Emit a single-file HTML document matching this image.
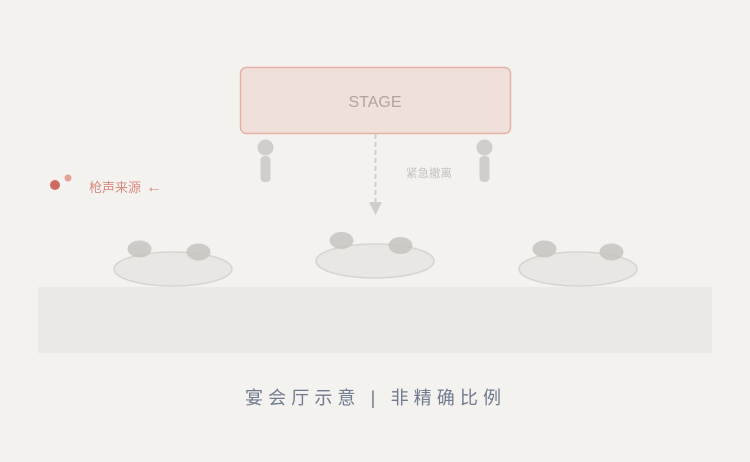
<!DOCTYPE html>
<html><head><meta charset="utf-8"><style>
html,body{margin:0;padding:0;background:#f4f2ef;}
svg{display:block;}
text{font-family:"Liberation Sans","Noto Sans CJK SC",sans-serif;}
</style></head><body>
<svg width="750" height="462" viewBox="0 0 750 462" xmlns="http://www.w3.org/2000/svg">
<rect width="750" height="462" fill="#f4f2ef"/>
<rect x="38" y="287" width="674" height="66" fill="#ebe9e5"/>
<rect x="240.5" y="67.5" width="270" height="66" rx="6" fill="#f0e0da" stroke="#e6b0a5" stroke-width="1.5"/>
<text x="375" y="107" font-size="16" fill="#b3a39d" text-anchor="middle">STAGE</text>
<circle cx="265.5" cy="147.5" r="8" fill="#d0cecb"/>
<rect x="260.5" y="156" width="10" height="26" rx="4" fill="#d0cecb"/>
<circle cx="484.5" cy="147.5" r="8" fill="#d0cecb"/>
<rect x="479.5" y="156" width="10" height="26" rx="4" fill="#d0cecb"/>
<line x1="375.5" y1="134" x2="375.5" y2="203" stroke="#cfcdca" stroke-width="2" stroke-dasharray="5,3"/>
<polygon points="369,202 382,202 375.5,215" fill="#d0cecb"/>
<text x="406" y="177" font-size="11.5" fill="#c4c2bf">紧急撤离</text>
<circle cx="55" cy="185" r="5" fill="#cc6b5e"/>
<circle cx="68" cy="178" r="3.5" fill="#e8a095"/>
<text x="89" y="192" font-size="13" fill="#d98a7e">枪声来源</text>
<text x="146" y="192" font-size="16" fill="#d98a7e">←</text>
<g fill="#e9e7e3" stroke="#d6d4d0" stroke-width="1.5">
<ellipse cx="173" cy="269" rx="59" ry="17"/>
<ellipse cx="375" cy="261" rx="59" ry="17"/>
<ellipse cx="578" cy="269" rx="59" ry="17"/>
</g>
<g fill="#c6c4c0" fill-opacity="0.85">
<ellipse cx="139.5" cy="249" rx="12" ry="8.5"/>
<ellipse cx="198.5" cy="252" rx="12" ry="8.5"/>
<ellipse cx="341.5" cy="240.5" rx="12" ry="8.5"/>
<ellipse cx="400.5" cy="245.5" rx="12" ry="8.5"/>
<ellipse cx="544.5" cy="249" rx="12" ry="8.5"/>
<ellipse cx="611.5" cy="252" rx="12" ry="8.5"/>
</g>
<text x="245" y="404" font-size="18" fill="#6f7a8f" textLength="256" lengthAdjust="spacing">宴会厅示意 | 非精确比例</text>
</svg>
</body></html>
